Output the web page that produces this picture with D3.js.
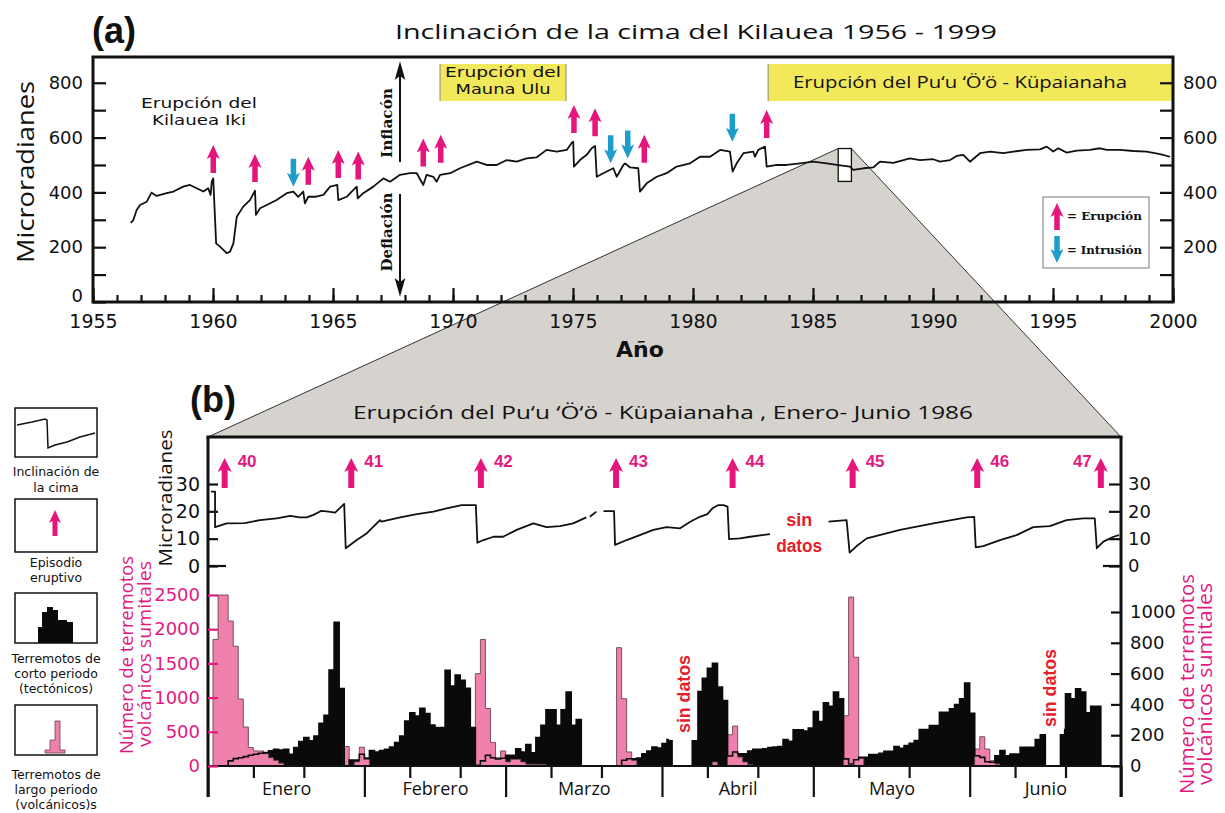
<!DOCTYPE html>
<html>
<head>
<meta charset="utf-8">
<style>
  body { margin: 0; background: #fff; }
  svg { display: block; }
</style>
</head>
<body>
<svg width="1225" height="813"></svg>
<script src="https://d3js.org/d3.v7.min.js"></script>
<script>
// ================= data =================

// panel (a): summit tilt 1956-1999 (year, microradians)
let summitYears = [1956.57, 1956.68, 1956.82, 1956.96, 1957.24, 1957.44, 1957.65, 1958.07, 1958.35, 1958.76,
  1959.04, 1959.32, 1959.60, 1959.80, 1959.90, 1959.95, 1960.01, 1960.13, 1960.29, 1960.57,
  1960.71, 1960.85, 1960.99, 1961.26, 1961.54, 1961.75, 1961.79, 1961.96, 1962.24, 1962.65,
  1963.07, 1963.35, 1963.55, 1963.76, 1963.83, 1963.97, 1964.25, 1964.60, 1964.88, 1965.18,
  1965.22, 1965.57, 1965.85, 1965.99, 1966.03, 1966.26, 1966.68, 1967.10, 1967.38, 1967.79,
  1968.21, 1968.49, 1968.76, 1968.90, 1969.18, 1969.32, 1969.46, 1969.88, 1970.29, 1970.99,
  1971.40, 1971.82, 1972.24, 1972.65, 1973.07, 1973.49, 1973.90, 1974.32, 1974.74, 1974.95,
  1975.01, 1975.04, 1975.29, 1975.57, 1975.78, 1975.92, 1975.99, 1976.26, 1976.68, 1976.82,
  1977.10, 1977.17, 1977.38, 1977.72, 1977.79, 1978.07, 1978.49, 1978.90, 1979.32, 1979.88,
  1980.29, 1980.71, 1981.13, 1981.54, 1981.65, 1981.82, 1982.10, 1982.51, 1982.58, 1982.72,
  1983.00, 1983.07, 1983.49, 1983.90, 1984.46, 1985.01, 1985.57, 1985.99, 1986.54, 1986.68,
  1987.10, 1987.51, 1987.79, 1988.35, 1989.04, 1989.46, 1990.01, 1990.29, 1990.71, 1990.99,
  1991.26, 1991.54, 1991.96, 1992.38, 1992.93, 1993.35, 1993.90, 1994.46, 1994.74, 1995.01,
  1995.22, 1995.57, 1995.99, 1996.54, 1996.96, 1997.24, 1997.79, 1998.35, 1998.90, 1999.46,
  1999.88]
let summitTilt = [289, 299, 336, 354, 366, 399, 387, 397, 403, 421,
  427, 415, 403, 415, 391, 439, 451, 214, 202, 178,
  184, 214, 311, 348, 372, 406, 318, 342, 354, 372,
  397, 403, 384, 403, 360, 384, 384, 391, 421, 427,
  372, 384, 409, 421, 378, 397, 421, 451, 439, 464,
  470, 470, 427, 464, 457, 439, 464, 470, 488, 512,
  500, 500, 518, 512, 524, 528, 555, 549, 555, 581,
  585, 494, 518, 537, 561, 569, 457, 470, 488, 457,
  500, 506, 491, 488, 403, 433, 457, 470, 494, 506,
  530, 530, 555, 549, 476, 506, 543, 549, 530, 555,
  567, 494, 500, 500, 506, 512, 506, 500, 494, 482,
  488, 491, 512, 508, 524, 518, 521, 512, 518, 533,
  537, 512, 543, 549, 543, 549, 555, 557, 567, 549,
  561, 545, 552, 555, 561, 555, 555, 551, 549, 540,
  530]

let eruptionYears = [1960.01, 1961.75, 1963.97, 1965.22, 1966.05, 1968.76, 1969.49, 1975.04, 1975.92, 1977.97, 1983.07]
let eruptionTips = [573, 540, 530, 555, 549, 597, 610, 719, 707, 610, 701]
let intrusionYears = [1963.35, 1976.57, 1977.28, 1981.64]
let intrusionTips = [421, 506, 524, 585]

let yellowStart = [1969.46, 1983.13]
let yellowEnd = [1974.71, 2000]
let zoomYears = [1986.05, 1986.6]
let zoomTilt = [440, 560]

let yearTicks = d3.range(1955, 2001)
let tiltTicksA = d3.range(0, 900, 100)

// panel (b): Jan-Jun 1986, daily counts
let months = ["Enero", "Febrero", "Marzo", "Abril", "Mayo", "Junio"]
let monthDays = [31, 28, 31, 30, 31, 30]

// short-period (tectonic) earthquakes per day, right axis
let shortJan = [0, 0, 0, 0, 33, 48, 54, 61, 70, 76, 83, 87, 98, 108, 104, 108, 76, 120, 158, 185,
  163, 195, 278, 330, 623, 933, 503, 0, 39, 39, 76]
let shortFeb = [48, 100, 90, 100, 108, 123, 152, 195, 292, 346, 325, 374, 340, 266, 249, 249, 621, 519, 591,
  556, 504, 249, 5, 33, 70, 54, 45, 50]
let shortMar = [69, 69, 112, 91, 140, 86, 184, 264, 365, 365, 264, 365, 480, 264, 302, 0, 0, 0, 0, 0, 0,
  0, 0, 37, 47, 47, 52, 80, 97, 123, 117]
let shortApr = [145, 171, 0, 0, 0, 0, 307, 484, 570, 635, 667, 512, 425, 65, 91, 80, 80, 97, 108, 108,
  112, 119, 123, 127, 171, 160, 235, 235, 227, 246]
let shortMay = [354, 289, 410, 388, 480, 436, 46, 13, 41, 56, 56, 74, 74, 82, 95, 95, 126, 115, 132, 148,
  165, 237, 237, 263, 263, 349, 349, 371, 399, 436, 538]
let shortJun = [343, 67, 56, 28, 24, 67, 100, 67, 78, 78, 121, 121, 121, 171, 208, 0, 0, 0, 237,
  469, 436, 501, 480, 345, 388, 388, 0, 0, 0, 0]

// long-period (volcanic) earthquakes per day, left axis
let longJan = [0, 1850, 2500, 2500, 2120, 1750, 980, 570, 270, 220, 220, 180, 120, 80, 40, 0, 0, 0, 0, 0,
  0, 0, 0, 0, 0, 0, 0, 285, 0, 60, 275]
let longFeb = [124, 0, 0, 0, 0, 0, 0, 0, 0, 0, 0, 0, 0, 0, 0, 0, 0, 0, 0,
  0, 0, 0, 1350, 1850, 840, 345, 120, 220]
let longMar = [60, 97, 97, 58, 24, 24, 24, 24, 0, 0, 0, 0, 0, 0, 0, 0, 0, 0, 0, 0, 0,
  0, 1730, 984, 205, 80, 0, 0, 0, 0, 0]
let longApr = [0, 0, 0, 0, 0, 0, 0, 0, 0, 0, 58, 0, 0, 458, 584, 130, 58, 20, 0, 0,
  0, 0, 0, 0, 0, 0, 0, 0, 0, 0]
let longMay = [0, 0, 0, 0, 0, 0, 735, 2470, 1590, 112, 0, 0, 0, 0, 0, 0, 0, 0, 0, 0,
  0, 0, 0, 0, 0, 0, 0, 0, 0, 0, 0]
let longJun = [0, 248, 428, 248, 78, 29, 0, 0, 0, 0, 0, 0, 0, 0, 0, 0, 0, 0, 0,
  0, 0, 0, 0, 0, 0, 0, 0, 0, 0, 0]

// summit tilt, Jan-Jun 1986 (day of year from Jan 1, microradians; null = no data)
let tiltDays = [0.6, 1.4, 1.4, 3.7, 7.3, 10.3, 13.6, 16.3, 18.2, 19.6, 20.9, 22.5, 23.9, 25.2, 27.0, 27.3,
  29.5, 31.5, 34.1, 34.4, 38.1, 41.4, 44.7, 47.3, 50.3, 53.1, 53.4, 54.6, 56.6, 58.5, 61.2, 64.5,
  67.1, 69.8, 72.4, 75.0, 75.4, 75.7, 77.0, 77.7, 78.4, 80.5, 80.7, 83.0, 85.6, 88.3, 90.9, 93.6,
  95.6, 97.5, 99.0, 100.0, 101.2, 102.2, 103.0, 103.3, 105.5, 107.5, 111.4, 117, 123.0, 126.6,
  127.2, 128.6, 130.6, 137.2, 143.8, 150.4, 151.9, 152.2, 153.7, 157.0, 160.3, 163.6, 166.9, 170.2,
  173.5, 175.8, 176.2, 177.5, 179.5, 180.6]
let tiltB = [27.2, 27.2, 14.2, 15.6, 15.7, 16.8, 17.4, 18.3, 17.8, 17.8, 18.7, 20.2, 19.9, 19.5, 22.7, 6.5,
  9.5, 12.0, 16.8, 16.2, 17.8, 19.0, 19.9, 21.1, 22.3, 22.3, 8.5, 9.5, 10.7, 10.7, 13.2, 15.6,
  14.2, 14.6, 15.6, 17.8, null, 18.0, 19.9, null, 20.1, 20.1, 7.7, 9.5, 11.3, 13.2, 14.2, 13.8,
  16.2, 18.0, 19.0, 21.1, 22.3, 22.3, 21.7, 9.8, 10.1, 10.7, 11.7, null, 16.2, 16.8,
  4.9, 7.3, 10.1, 13.2, 15.6, 17.8, 18.0, 6.8, 7.3, 9.5, 11.3, 14.2, 14.6, 16.8,
  17.4, 17.4, 6.5, 8.9, 10.7, 11.3]

let episodes = [40, 41, 42, 43, 44, 45, 46, 47]
let episodeDays = [3.3, 28.4, 54.1, 80.9, 104.0, 127.8, 152.5, 177.0]

let tiltTicksB = [0, 10, 20, 30]
let longTicks = [0, 500, 1000, 1500, 2000, 2500]
let shortTicks = [0, 200, 400, 600, 800, 1000]
let noDataDays = [117.2, 94.2, 166.9]

// ================= drawing =================
let magenta = "#e6157c", cyan = "#1c9dcb", pinkText = "#e2197f", pinkFill = "#ee80ab", red = "#e5202b"

let svg = d3.select("svg")
svg.append("rect").attr("width", 1225).attr("height", 813).style("fill", "white")

let xA = d3.scaleLinear().domain([1955, 2000]).range([93, 1173])
let yA = d3.scaleLinear().domain([0, 894]).range([302, 57])

let xB = d3.scaleLinear().domain([0, 181]).range([208, 1121])
let yTilt = d3.scaleLinear().domain([0, 30]).range([566, 484])
let yShort = d3.scaleLinear().domain([0, 1000]).range([766, 612])
let yLong = d3.scaleLinear().domain([0, 2500]).range([766, 595])

function txt(x, y, s, o) {
  o = o || {}
  let t = svg.append("text")
    .attr("x", x).attr("y", y)
    .attr("text-anchor", o.anchor || "middle")
    .attr("dominant-baseline", "central")
    .style("font-family", o.family || "'Open Sans', sans-serif")
    .style("font-size", (o.size || 16) + "px")
    .style("font-weight", o.weight || "normal")
    .style("fill", o.fill || "#111")
    .text(s)
  if (o.len) t.attr("textLength", o.len).attr("lengthAdjust", "spacingAndGlyphs")
  if (o.rot) t.attr("transform", "rotate(" + o.rot + "," + x + "," + y + ")")
  return t
}

function arrowPath(x, tip, dir, len, headW, headH, shaftW) {
  let hb = tip + dir * headH, end = tip + dir * len
  return "M" + x + "," + tip +
    "L" + (x + headW / 2) + "," + hb + "L" + (x + shaftW / 2) + "," + (hb - dir * 2) +
    "L" + (x + shaftW / 2) + "," + end + "L" + (x - shaftW / 2) + "," + end +
    "L" + (x - shaftW / 2) + "," + (hb - dir * 2) + "L" + (x - headW / 2) + "," + hb + "Z"
}

// ---- zoom wedge between the panels
let wedge = [[xA(zoomYears[0]), yA(zoomTilt[1])], [xA(zoomYears[1]), yA(zoomTilt[1])], [xB(181), 437], [xB(0), 437]]
svg.append("path").attr("d", "M" + wedge.join("L") + "Z").style("fill", "#d6d2ce").style("stroke", "none")
svg.append("line").attr("x1", wedge[0][0]).attr("y1", wedge[0][1]).attr("x2", wedge[3][0]).attr("y2", wedge[3][1])
  .style("stroke", "#333").style("stroke-width", 1)
svg.append("line").attr("x1", wedge[1][0]).attr("y1", wedge[1][1]).attr("x2", wedge[2][0]).attr("y2", wedge[2][1])
  .style("stroke", "#333").style("stroke-width", 1)

// ================= panel (a) =================
yellowStart.forEach((s, i) => {
  svg.append("rect").attr("x", xA(s)).attr("y", 64).attr("width", xA(yellowEnd[i]) - xA(s)).attr("height", 37)
    .style("fill", "#f1e85a")
  svg.append("line").attr("x1", xA(s)).attr("x2", xA(s)).attr("y1", 64).attr("y2", 101).style("stroke", "#8a8a7a")
  if (i == 0) svg.append("line").attr("x1", xA(yellowEnd[i])).attr("x2", xA(yellowEnd[i])).attr("y1", 64).attr("y2", 101).style("stroke", "#8a8a7a")
})
txt(503, 72, "Erupción del", { size: 14.5, len: 116, family: "'DejaVu Sans', sans-serif" })
txt(503, 89, "Mauna Ulu", { size: 14.5, len: 95, family: "'DejaVu Sans', sans-serif" })
txt(960, 81, "Erupción del Pu‘u ‘Ö‘ö - Küpaianaha", { size: 17, len: 334 })

// zoom window
svg.append("rect").attr("x", xA(zoomYears[0])).attr("y", yA(zoomTilt[1]))
  .attr("width", xA(zoomYears[1]) - xA(zoomYears[0])).attr("height", yA(zoomTilt[0]) - yA(zoomTilt[1]))
  .style("fill", "white").style("stroke", "#111").style("stroke-width", 1.3)

// tilt line
svg.append("path").datum(summitYears.map((y, i) => [y, summitTilt[i]]))
  .attr("d", d3.line().x(d => xA(d[0])).y(d => yA(d[1])))
  .style("fill", "none").style("stroke", "#111").style("stroke-width", 1.8).style("stroke-linejoin", "round")

// frame
svg.append("rect").attr("x", 93).attr("y", 57).attr("width", 1080).attr("height", 245)
  .style("fill", "none").style("stroke", "#111").style("stroke-width", 3)

function styleAxis(g, size, color, family) {
  g.select(".domain").remove()
  g.selectAll("line").style("stroke", color).style("stroke-width", 2.2)
  g.selectAll("text").style("font-family", family || "'DejaVu Sans', sans-serif").style("font-size", size + "px").style("fill", color)
}

svg.append("g").attr("transform", "translate(93,0)")
  .call(d3.axisLeft(yA).tickValues(tiltTicksA).tickSize(-13).tickPadding(10).tickFormat(d => d % 200 == 0 ? d : ""))
  .call(g => styleAxis(g, 18, "#111"))
  .call(g => g.selectAll("text").filter(d => d == 0).attr("dy", "-0.05em"))
svg.append("g").attr("transform", "translate(1173,0)")
  .call(d3.axisRight(yA).tickValues(tiltTicksA.filter(d => d > 0)).tickSize(-13).tickPadding(10).tickFormat(d => d % 200 == 0 ? d : ""))
  .call(g => styleAxis(g, 18, "#111"))
svg.append("g").attr("transform", "translate(0,302)")
  .call(d3.axisBottom(xA).tickValues(yearTicks).tickSize(-7).tickFormat(""))
  .call(g => styleAxis(g, 18, "#111"))
svg.append("g").attr("transform", "translate(0,302)")
  .call(d3.axisBottom(xA).tickValues(yearTicks.filter(d => d % 5 == 0)).tickSize(-14).tickPadding(13).tickFormat(d3.format("d")))
  .call(g => styleAxis(g, 19, "#111"))

// arrows
eruptionYears.forEach((y, i) => {
  svg.append("path").attr("d", arrowPath(xA(y), yA(eruptionTips[i]), 1, 28, 13, 14, 5.5)).style("fill", magenta)
})
intrusionYears.forEach((y, i) => {
  svg.append("path").attr("d", arrowPath(xA(y), yA(intrusionTips[i]), -1, 28, 13, 14, 5.5)).style("fill", cyan)
})

// inflation / deflation
svg.append("line").attr("x1", 400).attr("x2", 400).attr("y1", 74).attr("y2", 162).style("stroke", "#111").style("stroke-width", 2)
svg.append("path").attr("d", "M400,64 L404,78 L400,75 L396,78 Z").style("fill", "#111").style("stroke", "#111").style("stroke-width", 1.5)
svg.append("line").attr("x1", 400).attr("x2", 400).attr("y1", 194).attr("y2", 284).style("stroke", "#111").style("stroke-width", 2)
svg.append("path").attr("d", "M400,294 L404,280 L400,283 L396,280 Z").style("fill", "#111").style("stroke", "#111").style("stroke-width", 1.5)
txt(387, 123, "Inflacón", { size: 14, weight: "bold", family: "'DejaVu Serif', serif", len: 70, rot: -90 })
txt(387, 232, "Deflación", { size: 14, weight: "bold", family: "'DejaVu Serif', serif", len: 79, rot: -90 })

// legend
svg.append("rect").attr("x", 1043).attr("y", 197).attr("width", 106).attr("height", 71)
  .style("fill", "white").style("stroke", "#777").style("stroke-width", 1)
svg.append("path").attr("d", arrowPath(1057, 203, 1, 27, 13, 14, 5.5)).style("fill", magenta)
svg.append("path").attr("d", arrowPath(1057, 263, -1, 27, 13, 14, 5.5)).style("fill", cyan)
txt(1067, 216, "= Erupción", { size: 11.5, weight: "bold", family: "'DejaVu Serif', serif", anchor: "start", len: 75 })
txt(1067, 250, "= Intrusión", { size: 11.5, weight: "bold", family: "'DejaVu Serif', serif", anchor: "start", len: 75 })

// texts
txt(199, 103, "Erupción del", { size: 14.5, len: 116, family: "'DejaVu Sans', sans-serif" })
txt(199, 120, "Kilauea Iki", { size: 14.5, len: 94, family: "'DejaVu Sans', sans-serif" })
txt(696, 31, "Inclinación de la cima del  Kilauea 1956 - 1999", { size: 20, len: 602 })
txt(92, 30, "(a)", { size: 36, weight: "bold", family: "'Liberation Sans', sans-serif", anchor: "start" })
txt(25, 172, "Microradianes", { size: 23, len: 182, rot: -90 })
txt(640, 349, "Año", { size: 22, weight: "bold", family: "'DejaVu Sans', sans-serif" })

// ================= panel (b) =================
let shortPeriod = [].concat(shortJan, shortFeb, shortMar, shortApr, shortMay, shortJun)
let longPeriod = [].concat(longJan, longFeb, longMar, longApr, longMay, longJun)
let steps = arr => arr.map((v, i) => [i, v]).concat([[arr.length, arr[arr.length - 1]]])

svg.append("path").datum(steps(shortPeriod))
  .attr("d", d3.area().curve(d3.curveStepAfter).x(d => xB(d[0])).y0(yShort(0)).y1(d => yShort(d[1])))
  .style("fill", "#0a0a0a").style("stroke", "none")
svg.append("path").datum(steps(longPeriod))
  .attr("d", d3.area().curve(d3.curveStepAfter).x(d => xB(d[0])).y0(yLong(0)).y1(d => yLong(d[1])))
  .style("fill", pinkFill).style("stroke", "#6a4452").style("stroke-width", 0.9)
svg.append("path").datum(steps(shortPeriod))
  .attr("d", d3.line().curve(d3.curveStepAfter).x(d => xB(d[0])).y(d => yShort(d[1])))
  .style("fill", "none").style("stroke", "#0a0a0a").style("stroke-width", 1.6)

// tilt line
svg.append("path").datum(tiltDays.map((d, i) => [d, tiltB[i]]))
  .attr("d", d3.line().defined(d => d[1] !== null).x(d => xB(d[0])).y(d => yTilt(d[1])))
  .style("fill", "none").style("stroke", "#111").style("stroke-width", 1.8).style("stroke-linejoin", "round")

// episode arrows
episodes.forEach((n, i) => {
  let x = xB(episodeDays[i])
  svg.append("path").attr("d", arrowPath(x, 458, 1, 30, 14, 14, 6)).style("fill", magenta)
  txt(n == 47 ? x - 9 : x + 13, 461, n, { size: 17, weight: "bold", fill: pinkText,
    family: "'Liberation Sans', sans-serif", anchor: n == 47 ? "end" : "start" })
})

// frame lines
svg.append("line").attr("x1", 206.5).attr("x2", 1122.5).attr("y1", 437).attr("y2", 437).style("stroke", "#111").style("stroke-width", 3)
svg.append("line").attr("x1", 208).attr("x2", 208).attr("y1", 437).attr("y2", 797).style("stroke", "#111").style("stroke-width", 3)
svg.append("line").attr("x1", 1121).attr("x2", 1121).attr("y1", 437).attr("y2", 797).style("stroke", "#111").style("stroke-width", 3)
svg.append("line").attr("x1", 208).attr("x2", 1121).attr("y1", 766).attr("y2", 766).style("stroke", "#111").style("stroke-width", 2)

// month axis
let monthStarts = d3.cumsum([0].concat(monthDays)).slice(0, 7)
let minorDays = []
monthStarts.slice(0, 6).forEach(s => { minorDays.push(s + 9, s + 19) })
svg.append("g").attr("transform", "translate(0,766)")
  .call(d3.axisBottom(xB).tickValues(Array.from(monthStarts)).tickSize(31).tickFormat(""))
  .call(g => styleAxis(g, 18, "#111"))
svg.append("g").attr("transform", "translate(0,766)")
  .call(d3.axisBottom(xB).tickValues(minorDays).tickSize(12).tickFormat(""))
  .call(g => styleAxis(g, 18, "#111"))
svg.append("g").attr("transform", "translate(0,766)")
  .call(d3.axisBottom(xB).tickValues(months.map((m, i) => monthStarts[i] + monthDays[i] / 2)).tickSize(0).tickPadding(16)
    .tickFormat((d, i) => months[i]))
  .call(g => styleAxis(g, 18, "#111", "'Open Sans', sans-serif"))

// tilt axes
svg.append("g").attr("transform", "translate(208,0)")
  .call(d3.axisLeft(yTilt).tickValues(tiltTicksB).tickSize(-10).tickPadding(8))
  .call(g => styleAxis(g, 19, "#111"))
svg.append("g").attr("transform", "translate(1121,0)")
  .call(d3.axisRight(yTilt).tickValues(tiltTicksB).tickSize(-12).tickPadding(7))
  .call(g => styleAxis(g, 18, "#111"))
svg.append("line").attr("x1", 208).attr("x2", 226).attr("y1", yTilt(0)).attr("y2", yTilt(0)).style("stroke", "#111").style("stroke-width", 2.2)
svg.append("line").attr("x1", 1103).attr("x2", 1121).attr("y1", yTilt(0)).attr("y2", yTilt(0)).style("stroke", "#111").style("stroke-width", 2.2)

// count axes
svg.append("g").attr("transform", "translate(208,0)")
  .call(d3.axisLeft(yLong).tickValues(longTicks).tickSize(-10).tickPadding(8).tickFormat(d3.format("d")))
  .call(g => styleAxis(g, 18, pinkText))
svg.append("g").attr("transform", "translate(1121,0)")
  .call(d3.axisRight(yShort).tickValues(shortTicks).tickSize(-10).tickPadding(9).tickFormat(d3.format("d")))
  .call(g => styleAxis(g, 18, "#111"))

// "sin datos"
let nd0 = xB(noDataDays[0])
svg.append("rect").attr("x", nd0 - 29).attr("y", 505).attr("width", 58).attr("height", 62).style("fill", "white")
txt(nd0, 520, "sin", { size: 18, weight: "bold", fill: red, family: "'Liberation Sans', sans-serif" })
txt(nd0, 546, "datos", { size: 18, weight: "bold", fill: red, family: "'Liberation Sans', sans-serif", len: 46 })
noDataDays.slice(1).forEach((d, i) => {
  let x = xB(d), cy = i == 0 ? 694 : 688
  svg.append("rect").attr("x", x - 14).attr("y", cy - 46).attr("width", 28).attr("height", 92).style("fill", "white")
  txt(x, cy, "sin datos", { size: 19, weight: "bold", fill: red, family: "'Liberation Sans', sans-serif", len: 78, rot: -90 })
})

// titles and axis labels
txt(190, 399, "(b)", { size: 36, weight: "bold", family: "'Liberation Sans', sans-serif", anchor: "start" })
txt(663, 412, "Erupción del Pu‘u ‘Ö‘ö - Küpaianaha , Enero- Junio 1986", { size: 18, len: 620 })
txt(165, 498, "Microradianes", { size: 18, len: 137, rot: -90 })
txt(126, 655, "Número de terremotos", { size: 19, len: 198, fill: pinkText, rot: -90 })
txt(144, 654, "volcánicos sumitales", { size: 19, len: 186, fill: pinkText, rot: -90 })
txt(1186, 684, "Número de terremotos", { size: 20, len: 220, fill: pinkText, rot: -90 })
txt(1204, 684, "volcánicos sumitales", { size: 20, len: 202, fill: pinkText, rot: -90 })

// ================= left key =================
let keyBoxes = [[408, 49], [499, 53], [593, 50], [705, 50]]
keyBoxes.forEach(k => {
  svg.append("rect").attr("x", 15).attr("y", k[0]).attr("width", 82).attr("height", k[1])
    .style("fill", "white").style("stroke", "#111").style("stroke-width", 1.5)
})
svg.append("path").attr("d", "M17,425 L32,422 L45,419 L47,420 L48,448 L55,445 L67,442 L80,437 L95,433")
  .style("fill", "none").style("stroke", "#111").style("stroke-width", 1.5)
svg.append("path").attr("d", arrowPath(55, 510, 1, 26, 12, 13, 5)).style("fill", magenta)
svg.append("path").attr("d", "M38,643 L38,627 L42,627 L42,612 L47,612 L47,607 L53,607 L53,610 L58,610 L58,620 L67,620 L67,622 L73,622 L73,643 Z")
  .style("fill", "#0a0a0a")
svg.append("path").attr("d", "M45,753 L45,750 L50,750 L50,740 L55,740 L55,721 L60,721 L60,750 L65,750 L65,753 Z")
  .style("fill", pinkFill).style("stroke", "#6a4452").style("stroke-width", 0.8)

let keyText = [["Inclinación de", 471], ["la cima", 487], ["Episodio", 562], ["eruptivo", 577],
  ["Terremotos de", 658], ["corto periodo", 673], ["(tectónicos)", 688],
  ["Terremotos de", 774], ["largo periodo", 789], ["(volcánicos)s", 804]]
keyText.forEach(t => txt(56, t[1], t[0], { size: 12.5, family: "'DejaVu Sans', sans-serif" }))
</script>
</body>
</html>
